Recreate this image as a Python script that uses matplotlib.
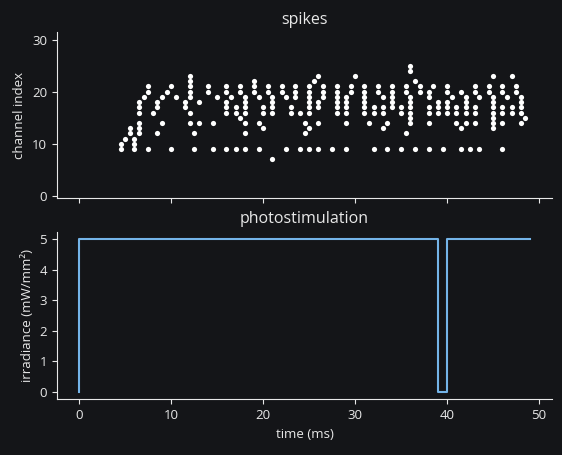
import numpy as np
import matplotlib
matplotlib.use("Agg")
import matplotlib.pyplot as plt

# ---- data ----
column_times = [4.5, 5, 5.5, 6, 6.5, 7, 7.5, 8, 8.5, 9, 9.5, 10, 10.5, 11.5, 12, 12.5, 13,
                14, 14.5, 15, 16, 16.5, 17, 17.5, 18, 19, 19.5, 20, 20.5, 21, 22, 22.5, 23,
                23.5, 24, 24.5, 25, 25.5, 26, 26.5, 27.5, 28, 29, 29.5, 30, 31, 31.5, 32,
                32.5, 33, 33.5, 34, 35, 35.5, 36, 36.5, 37, 38, 38.5, 39, 39.5, 40, 40.5,
                41, 41.5, 42, 42.5, 43, 43.5, 44.5, 45, 46, 46.5, 47, 47.5, 48, 48.5]
column_channels = [
    [9, 10], [11], [12, 13], [9, 10, 11], [12, 13, 14, 16, 17, 18], [19], [9, 20, 21],
    [16], [12, 17, 18], [14, 19], [20], [9, 21], [19], [17, 18],
    [14, 16, 19, 20, 21, 22, 23], [9, 12], [14, 18],
    [20, 21], [9, 14], [19], [9, 16, 17, 18, 20, 21], [19], [9, 16, 17], [15, 20, 21],
    [9, 12, 14, 16, 17, 18, 19], [20, 21, 22], [9, 14, 19], [13, 16, 17], [20, 21],
    [7, 16, 17, 18, 19], [20, 21], [9, 19], [16, 17],
    [19, 20, 21], [9, 16], [12, 14], [9, 13, 16, 17, 18, 19, 20, 21], [22],
    [9, 14, 17, 18, 23], [19, 20, 21], [9], [16, 17, 18, 19, 20, 21],
    [9, 14, 16, 17, 18, 19], [20, 21], [23], [16, 17, 18, 19, 20, 21], [14], [9, 16, 17],
    [20, 21], [13, 16, 17, 19], [9, 14], [17, 18, 19, 20, 21], [9, 16, 17], [12, 20, 21],
    [14, 15, 16, 17, 18, 19, 24, 25], [9, 22], [20, 21], [9, 14, 16, 17, 19, 20], [21],
    [16, 17, 18], [9], [16, 17, 18, 20, 21], [19],
    [14, 16, 17], [9, 13, 20], [14, 16, 17, 18, 19], [9], [14, 16, 17, 20, 21], [9, 19],
    [20, 21], [13, 14, 15, 16, 17, 18, 19, 23], [9, 14, 16, 17, 20, 21], [19],
    [16, 17, 23], [20, 21], [14, 16, 17, 18, 19], [15]]

stim_time = [0, 0, 39, 39, 40, 40, 49]
stim_irradiance = [0, 5, 5, 0, 0, 5, 5]

channel_ticks = [0, 10, 20, 30]
irradiance_ticks = [0, 1, 2, 3, 4, 5]
time_ticks = [0, 10, 20, 30, 40, 50]

spike_t = np.concatenate([[t] * len(c) for t, c in zip(column_times, column_channels)])
spike_ch = np.concatenate([c for c in column_channels])

# ---- style ----
bg = "#141518"
fg = "#e8e8e8"
plt.rcParams["font.family"] = ["Open Sans", "DejaVu Sans"]
plt.rcParams["text.color"] = fg
plt.rcParams["axes.labelcolor"] = fg
plt.rcParams["xtick.color"] = fg
plt.rcParams["ytick.color"] = fg
plt.rcParams["axes.edgecolor"] = fg

fig = plt.figure(figsize=(5.62, 4.55), dpi=100, facecolor=bg)
ax1 = fig.add_axes([0.101, 0.564, 0.882, 0.366], facecolor=bg)
ax2 = fig.add_axes([0.101, 0.122, 0.882, 0.369], facecolor=bg, sharex=ax1)

ax1.scatter(spike_t, spike_ch, s=14, color="white", linewidths=0)
ax1.set_ylim(-0.5, 31.5)
ax1.set_yticks(channel_ticks)
ax1.set_ylabel("channel index", fontsize=9.5)
ax1.set_title("spikes", fontsize=11.5, color=fg)
ax1.tick_params(labelbottom=False, labelsize=9.5)

ax2.plot(stim_time, stim_irradiance, color="#74b4e8", linewidth=1.5)
ax2.set_ylim(-0.25, 5.25)
ax2.set_yticks(irradiance_ticks)
ax2.set_xticks(time_ticks)
ax2.set_xlim(-2.45, 51.45)
ax2.set_ylabel("irradiance (mW/mm²)", fontsize=9.5)
ax2.set_xlabel("time (ms)", fontsize=9.5)
ax2.set_title("photostimulation", fontsize=11.5, color=fg)
ax2.tick_params(labelsize=9.5)

for ax in (ax1, ax2):
    ax.spines["top"].set_visible(False)
    ax.spines["right"].set_visible(False)

fig.savefig("out.png", dpi=100, facecolor=bg)
